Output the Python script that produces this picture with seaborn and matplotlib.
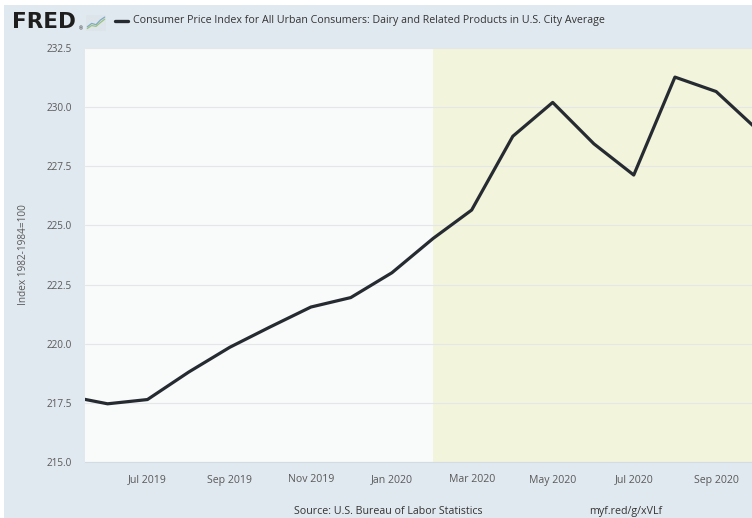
import pandas as pd
import matplotlib.pyplot as plt
import seaborn as sns
from matplotlib.patches import Rectangle
from matplotlib.lines import Line2D

# --- data (monthly, index 1982-1984=100) ---
months = pd.date_range('2019-05-01', '2020-10-01', freq='MS')
cpi_dairy = [217.80, 217.46, 217.64, 218.80, 219.85, 220.70, 221.55, 221.95,
             223.00, 224.45, 225.65, 228.77, 230.20, 228.45, 227.13, 231.27,
             230.66, 229.10]
y_ticks = [215.0, 217.5, 220.0, 222.5, 225.0, 227.5, 230.0, 232.5]
x_tick_dates = pd.to_datetime(['2019-07-01', '2019-09-01', '2019-11-01', '2020-01-01',
                               '2020-03-01', '2020-05-01', '2020-07-01', '2020-09-01'])
x_tick_labels = ['Jul 2019', 'Sep 2019', 'Nov 2019', 'Jan 2020',
                 'Mar 2020', 'May 2020', 'Jul 2020', 'Sep 2020']
recession_start = pd.Timestamp('2020-02-01')
x_start = pd.Timestamp('2019-05-15')
x_end = pd.Timestamp('2020-09-28')

title = 'Consumer Price Index for All Urban Consumers: Dairy and Related Products in U.S. City Average'

df = pd.DataFrame({'date': months, 'value': cpi_dairy})

sns.set_style('white')
plt.rcParams['font.family'] = ['Open Sans', 'DejaVu Sans']

W, H = 752, 518
fig = plt.figure(figsize=(W / 100, H / 100), dpi=100, facecolor='white')

# FRED blue-grey frame
fig.patches.append(Rectangle((4 / W, 0), 1, (H - 5) / H, transform=fig.transFigure,
                             facecolor='#e1e9f0', edgecolor='none', zorder=-10))

ax = fig.add_axes([85 / W, (H - 462) / H, (W - 85) / W, 414 / H])
ax.set_facecolor('#f9fafa')

ax.axvspan(recession_start, x_end + pd.Timedelta(days=30), facecolor='#f3f4dc',
           edgecolor='none', zorder=0.1)

sns.lineplot(data=df, x='date', y='value', ax=ax, color='#262b31', linewidth=2.3,
             zorder=3)

ax.set_xlim(x_start, x_end)
ax.set_ylim(y_ticks[0], y_ticks[-1])
ax.set_yticks(y_ticks)
ax.set_yticklabels([f'{v:.1f}' for v in y_ticks])
ax.set_xticks(x_tick_dates)
ax.set_xticklabels(x_tick_labels)
ax.set_xlabel('')
ax.set_ylabel('')

ax.yaxis.grid(True, color='#e4e6e8', linewidth=0.8)
ax.set_axisbelow(True)
for s in ['top', 'right', 'left']:
    ax.spines[s].set_visible(False)
ax.spines['bottom'].set_color('#d3dbe3')
ax.spines['bottom'].set_linewidth(0.8)

ax.tick_params(axis='y', length=0, pad=9.5, labelsize=7.2, labelcolor='#595959')
ax.tick_params(axis='x', length=5, width=0.8, color='#c4ccd4', pad=4,
               labelsize=7.6, labelcolor='#595959')

# y label
fig.text(24 / W, 1 - 255 / H, 'Index 1982-1984=100', rotation=90, fontsize=7.2,
         color='#595959', ha='center', va='center')

# header: FRED logo, legend line and series title
fig.text(12 / W, 1 - 22.5 / H, 'FRED', fontsize=15.5, fontweight='bold',
         family=['DejaVu Sans'], color='#1e1e1e', ha='left', va='center')
fig.text(79 / W, 1 - 29 / H, '®', fontsize=3.5, color='#1e1e1e', ha='left', va='center')

icon = fig.add_axes([86 / W, 1 - 31 / H, 20 / W, 16 / H])
icon.plot([0, 1, 2, 3, 4], [0.6, 1.4, 1.1, 2.2, 2.9], color='#7fa8c9', lw=0.9)
icon.plot([0, 1, 2, 3, 4], [0.2, 0.9, 0.7, 1.6, 2.4], color='#9bc27a', lw=0.9)
icon.set_xlim(-0.3, 4.3)
icon.set_ylim(-0.4, 3.4)
icon.set_xticks([])
icon.set_yticks([])
for s in icon.spines.values():
    s.set_visible(False)
icon.set_facecolor('#dde4ea')

fig.lines.append(Line2D([115 / W, 128 / W], [1 - 21 / H, 1 - 21 / H],
                        transform=fig.transFigure, color='#262b31', linewidth=2.4))
fig.text(133 / W, 1 - 21 / H, title, fontsize=7.7, color='#333333',
         ha='left', va='center')

# footer, sitting right on the bottom edge
fig.text(388 / W, 1 / H, 'Source: U.S. Bureau of Labor Statistics', fontsize=7.7,
         color='#333333', ha='center', va='bottom')
fig.text(589 / W, 1 / H, 'myf.red/g/xVLf', fontsize=7.7,
         color='#333333', ha='left', va='bottom')

fig.savefig('out.png', dpi=100, facecolor='white')
